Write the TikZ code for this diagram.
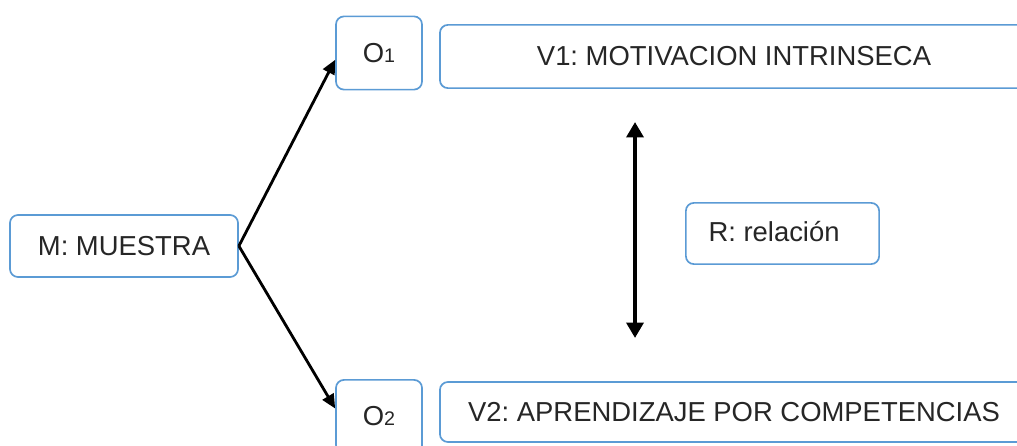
\documentclass[tikz,border=0pt]{standalone}
\usepackage{fontspec}
\setmainfont{Liberation Sans}
\usetikzlibrary{arrows.meta}
\definecolor{boxblue}{RGB}{91,155,213}
\tikzset{
  caja/.style={draw=boxblue, line width=1.2pt, rounded corners=0.2cm, fill=white,
    inner sep=0pt, text=black!85, font=\fontsize{19.5}{23}\selectfont},
  flecha/.style={line width=2pt, -{Triangle[length=10pt,width=9pt]}},
}
\newcommand{\Osub}[1]{O{\fontsize{14}{16}\selectfont #1}}
\begin{document}
\frenchspacing
\begin{tikzpicture}[x=0.025cm,y=-0.025cm]
\clip (0,0) rectangle (1017,446);
\fill[white] (0,0) rectangle (1017,446);
% cajas
\node[caja, minimum width=5.7cm, minimum height=1.55cm] (M) at (124,246) {M: MUESTRA};
\node[caja, minimum width=2.15cm, minimum height=1.83cm] (O1) at (379,53) {\Osub{1}};
\node[caja, minimum width=2.15cm, minimum height=1.83cm] (O2) at (379,416.5) {\Osub{2}};
\node[caja, minimum width=14.7cm, minimum height=1.58cm] (V1) at (734,56.5) {V1: MOTIVACION INTRINSECA};
\node[caja, minimum width=14.7cm, minimum height=1.5cm] (V2) at (734,412) {V2: APRENDIZAJE POR COMPETENCIAS};
\node[caja, minimum width=4.83cm, minimum height=1.53cm] (R) at (782.5,233.5) {\raisebox{3pt}{R: relación}\kern12pt\null};
% flechas
\draw[flecha] (M.east) -- ([yshift=-0.17cm]O1.west);
\draw[flecha] (M.east) -- ([yshift=0.2cm]O2.west);
\coordinate (rtop) at (635,122);
\coordinate (rbot) at (635,338);
\draw[line width=3.4pt, {Triangle[length=11pt,width=12pt]}-{Triangle[length=11pt,width=12pt]}] (rtop) -- (rbot);
\end{tikzpicture}
\end{document}
